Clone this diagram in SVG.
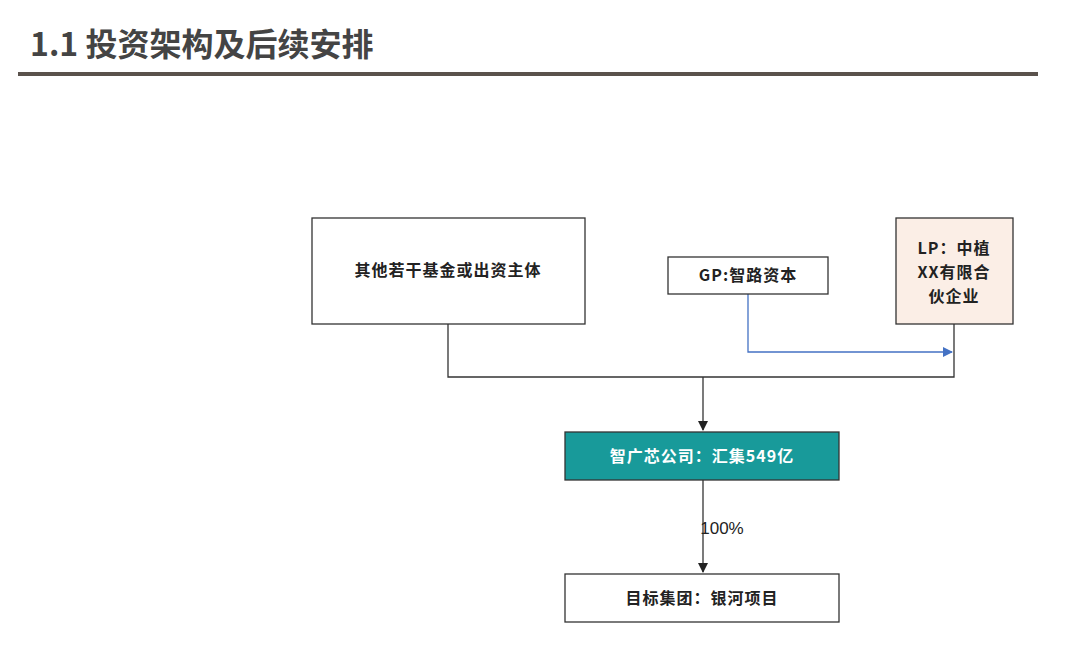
<svg xmlns="http://www.w3.org/2000/svg" width="1080" height="664" viewBox="0 0 1080 664">
<style>
.t{font-family:"Noto Sans CJK SC","Liberation Sans",sans-serif;font-weight:bold;font-size:16px;fill:#222;text-anchor:middle;letter-spacing:1px}
.box{stroke:#333;stroke-width:1.3}
.ln{fill:none;stroke:#333;stroke-width:1.3}
</style>
<defs>
<marker id="a" markerWidth="10" markerHeight="10" refX="9" refY="5" orient="auto" markerUnits="userSpaceOnUse"><path d="M0,0L10,5L0,10z" fill="#222"/></marker>
<marker id="b" markerWidth="10" markerHeight="10" refX="9" refY="5" orient="auto" markerUnits="userSpaceOnUse"><path d="M0,0L10,5L0,10z" fill="#4472c4"/></marker>
</defs>
<rect width="1080" height="664" fill="#fff"/>
<text x="30" y="56" style="font-family:'Noto Sans CJK SC',serif;font-weight:bold;font-size:32px;fill:#444">1.1 投资架构及后续安排</text>
<rect x="18" y="72" width="1020" height="4" fill="#5a524c"/>
<g id="connectors">
<path class="ln" d="M448,324V377H954V324"/>
<path class="ln" d="M703,377V430" marker-end="url(#a)"/>
<path d="M748,294V352H952" fill="none" stroke="#4472c4" stroke-width="1.3" marker-end="url(#b)"/>
<path class="ln" d="M703,480V572" marker-end="url(#a)"/>
<text x="722" y="534" style="font-family:'Liberation Sans',sans-serif;font-size:17px;fill:#222;text-anchor:middle">100%</text>
</g>
<g id="n1"><rect class="box" x="312" y="218" width="273" height="106" fill="#fff"/><text class="t" x="448" y="276">其他若干基金或出资主体</text></g>
<g id="n2"><rect class="box" x="668" y="257" width="160" height="37" fill="#fff"/><text class="t" x="748" y="281">GP:智路资本</text></g>
<g id="n3"><rect class="box" x="896" y="218" width="117" height="106" fill="#fbeee6"/><text class="t" x="954" y="254">LP：中植</text><text class="t" x="954" y="278">XX有限合</text><text class="t" x="954" y="302">伙企业</text></g>
<g id="n4"><rect class="box" x="565" y="432" width="274" height="48" fill="#189a9a"/><text class="t" x="702" y="462" style="fill:#fff">智广芯公司：汇集549亿</text></g>
<g id="n5"><rect class="box" x="565" y="574" width="274" height="48" fill="#fff"/><text class="t" x="702" y="604">目标集团：银河项目</text></g>
</svg>
